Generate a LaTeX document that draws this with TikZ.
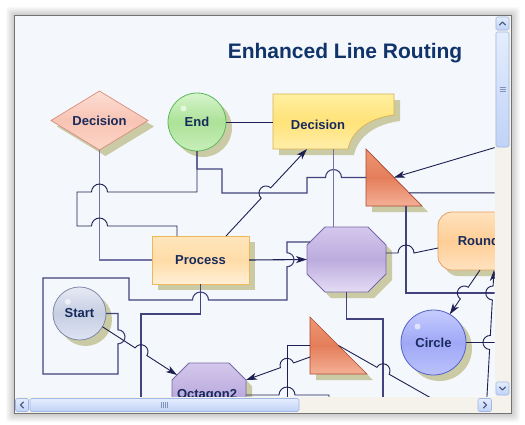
\documentclass[tikz,border=0pt]{standalone}
\usepackage{fontspec}
\setmainfont{Liberation Sans}
\usetikzlibrary{arrows.meta,shapes.geometric,shadows,calc}

\definecolor{colTitolo}{RGB}{16,52,106}
\definecolor{colTesto}{RGB}{24,42,92}
\definecolor{colSfondo}{RGB}{244,247,252}
\definecolor{colOmbra}{RGB}{198,198,156}
\definecolor{colScura}{RGB}{30,32,82}
\definecolor{colMedia}{RGB}{66,66,124}
\definecolor{colChiara}{RGB}{116,114,164}
\definecolor{colBarra}{RGB}{244,242,235}
\definecolor{colBordoP}{RGB}{160,184,230}
\definecolor{colP1}{RGB}{228,237,253}
\definecolor{colP2}{RGB}{192,210,246}
\definecolor{colFreccina}{RGB}{77,97,133}

\newcommand{\etichetta}{\bfseries\fontsize{13pt}{15pt}\selectfont}
\newcommand{\ottagonoPath}[2]{%
  ([xshift=#2]#1.north west) -- ([xshift=-#2]#1.north east) --
  ([yshift=-#2]#1.north east) -- ([yshift=#2]#1.south east) --
  ([xshift=-#2]#1.south east) -- ([xshift=#2]#1.south west) --
  ([yshift=#2]#1.south west) -- ([yshift=-#2]#1.north west) -- cycle}

\begin{document}
\begin{tikzpicture}[x=1pt,y=-1pt,
    every node/.style={font=\etichetta,text=colTesto},
    ombreggiata/.style={drop shadow={shadow xshift=6pt,shadow yshift=-6pt,fill=colOmbra,opacity=.9}},
    riquadro/.style={inner sep=0pt,outer sep=0pt},
    lscura/.style={draw=colScura,line width=.9pt},
    lmedia/.style={draw=colMedia,line width=1.1pt},
    lchiara/.style={draw=colChiara,line width=1.6pt},
    freccia/.style={-{Stealth[length=11pt,width=7pt,inset=3pt]}},
    pulsante/.style={draw=colBordoP,line width=.6pt,rounded corners=1.5pt,top color=colP1,bottom color=colP2},
    glifo/.style={draw=colFreccina,line width=1.2pt,line cap=round,line join=round}]
  \useasboundingbox (0,0) rectangle (525,424);
  \fill[white] (0,0) rectangle (525,424);
  \foreach \d in {1,...,8}
    \fill[black,opacity=.025,rounded corners=3pt] (14-\d,15-\d) rectangle (512+\d,414+\d);
  \fill[white] (14,15) rectangle (511,413);
  \fill[colSfondo] (15,16) rectangle (494.5,396.5);

  \begin{scope}
    \clip (15,16) rectangle (494.5,396.5);
    \node[font=\bfseries\fontsize{21pt}{24pt}\selectfont,text=colTitolo] (titolo) at (345,53) {Enhanced Line Routing};

    % forme
    \node[diamond,aspect=1.64,riquadro,minimum width=97pt,minimum height=59pt,
          draw={rgb,255:red,216;green,140;blue,124},line width=.7pt,
          top color={rgb,255:red,252;green,222;blue,212},bottom color={rgb,255:red,252;green,214;blue,200},
          middle color={rgb,255:red,248;green,196;blue,180},ombreggiata] (decisione1) at (99.5,120.5) {Decision};
    \node[circle,riquadro,minimum size=58pt,draw={rgb,255:red,92;green,186;blue,92},line width=.8pt,
          top color={rgb,255:red,214;green,244;blue,204},bottom color={rgb,255:red,200;green,238;blue,186},
          middle color={rgb,255:red,172;green,226;blue,152},ombreggiata] (fine) at (197,122) {};
    \node[riquadro,minimum width=121pt,minimum height=55pt] (decisione2) at (333.5,121.5) {};
    \path[draw={rgb,255:red,214;green,178;blue,80},line width=.7pt,
          top color={rgb,255:red,255;green,240;blue,160},bottom color={rgb,255:red,255;green,238;blue,170},
          middle color={rgb,255:red,255;green,226;blue,120},ombreggiata]
      (decisione2.north west) -- (decisione2.north east) -- ([yshift=-21pt]decisione2.north east)
      .. controls ([xshift=-24pt,yshift=31pt]decisione2.south east) and ([xshift=-42pt,yshift=19pt]decisione2.south east)
      .. ([xshift=-46pt]decisione2.south east) -- (decisione2.south west) -- cycle;
    \node[riquadro,minimum width=56pt,minimum height=57pt] (triangolo) at (394,177.5) {};
    \path[draw={rgb,255:red,170;green,72;blue,50},line width=.7pt,
          top color={rgb,255:red,238;green,150;blue,116},bottom color={rgb,255:red,244;green,176;blue,150},
          middle color={rgb,255:red,228;green,126;blue,90},ombreggiata]
      (triangolo.north west) -- (triangolo.south east) -- (triangolo.south west) -- cycle;
    \node[rectangle,riquadro,minimum width=97pt,minimum height=48pt,draw={rgb,255:red,240;green,182;blue,92},line width=.8pt,
          top color={rgb,255:red,255;green,230;blue,188},bottom color={rgb,255:red,255;green,240;blue,214},
          middle color={rgb,255:red,255;green,220;blue,168},ombreggiata] (processo) at (200.5,260) {};
    \node[riquadro,minimum width=79pt,minimum height=65pt] (ottagono) at (346.5,259.5) {};
    \path[draw={rgb,255:red,120;green,104;blue,168},line width=.8pt,
          top color={rgb,255:red,212;green,200;blue,236},bottom color={rgb,255:red,228;green,220;blue,244},
          middle color={rgb,255:red,188;green,172;blue,222},ombreggiata] \ottagonoPath{ottagono}{18pt};
    \node[rectangle,rounded corners=14pt,riquadro,minimum width=96pt,minimum height=58pt,
          draw={rgb,255:red,228;green,160;blue,96},line width=.8pt,
          top color={rgb,255:red,255;green,226;blue,190},bottom color={rgb,255:red,255;green,226;blue,192},
          middle color={rgb,255:red,255;green,206;blue,150},ombreggiata] (arrotondato) at (486,241) {};
    \node[circle,riquadro,minimum size=53pt,draw={rgb,255:red,128;green,138;blue,166},line width=.8pt,
          top color={rgb,255:red,230;green,234;blue,244},bottom color={rgb,255:red,222;green,228;blue,242},
          middle color={rgb,255:red,198;green,206;blue,226},ombreggiata] (inizio) at (79.5,313.5) {};
    \node[circle,riquadro,minimum size=65pt,draw={rgb,255:red,84;green,98;blue,200},line width=.8pt,
          top color={rgb,255:red,198;green,204;blue,255},bottom color={rgb,255:red,186;green,194;blue,252},
          middle color={rgb,255:red,160;green,168;blue,246},ombreggiata] (cerchio) at (433.5,342.5) {};
    \node[riquadro,minimum width=57pt,minimum height=57pt] (triangolo2) at (338.5,345.5) {};
    \path[draw={rgb,255:red,170;green,72;blue,50},line width=.7pt,
          top color={rgb,255:red,238;green,150;blue,116},bottom color={rgb,255:red,244;green,176;blue,150},
          middle color={rgb,255:red,228;green,126;blue,90},ombreggiata]
      (triangolo2.north west) -- (triangolo2.south east) -- (triangolo2.south west) -- cycle;
    \node[riquadro,minimum width=74pt,minimum height=64pt] (ottagono2) at (209,395) {};
    \path[draw={rgb,255:red,120;green,104;blue,168},line width=.8pt,
          top color={rgb,255:red,212;green,200;blue,236},bottom color={rgb,255:red,228;green,220;blue,244},
          middle color={rgb,255:red,188;green,172;blue,222},ombreggiata] \ottagonoPath{ottagono2}{17pt};

    \foreach \c in {fine,inizio,cerchio}
      \fill[white,opacity=.6] ([xshift=7pt,yshift=-7pt]\c.135) circle[radius=3pt];

    \node (fine_t) at (fine) {End};
    \node (decisione2_t) at (318,125) {Decision};
    \node (processo_t) at (processo) {Process};
    \node (arrotondato_t) at (arrotondato) {Rounded};
    \node (inizio_t) at (inizio) {Start};
    \node (cerchio_t) at (cerchio) {Circle};
    \node (ottagono2_t) at (207,395) {Octagon2};

    % collegamenti
    \coordinate (fuori1) at (500,146);
    \coordinate (fuori2) at (500,192.9);
    \coordinate (fuori3) at (500,293);
    \coordinate (fuori4) at (141,405);
    \coordinate (fuori5) at (383,405);
    \coordinate (fuori6) at (287,405);
    \coordinate (fuori7) at (329,405);
    \coordinate (fuori8) at (431,398);
    \coordinate (fuori9) at (486.5,405);
    \coordinate (fuori10) at (500,342.5);

    \draw[lchiara] (decisione1.south) |- (processo.west);
    \draw[lscura] (fine.south) -- (197,192) -- (107.5,192)
      arc[start angle=0,end angle=180,radius=8pt] -- (77,192) -- (77,226) -- (91.5,226)
      arc[start angle=180,end angle=0,radius=8pt] -- (177,226) -- ([xshift=-23.5pt]processo.north);
    \draw[lmedia] (fine.south) -- (197,169) -- (222,169) -- (222,193) -- (307,193) -- (307,177.5) -- (325.5,177.5)
      arc[start angle=180,end angle=0,radius=8pt] -- (triangolo.west);
    \draw[lscura,freccia] ([xshift=25.5pt]processo.north) -- (261.2,198.1)
      arc[start angle=227.1,delta angle=-180,radius=7pt] -- ([xshift=-26.5pt]decisione2.south);
    \draw[lchiara] (decisione2.south) -- (decisione2.south |- ottagono.north);
    \draw[lscura] (fine.east) -- (fine.east -| decisione2.west);
    \draw[lscura,freccia] (fuori1) -- (triangolo.center);
    \draw[lscura] ($(triangolo.north west)!.77!(triangolo.south east)$) -- (fuori2);
    \draw[lmedia] ([xshift=12pt]triangolo.south) |- (fuori3);
    \draw[lscura] ([yshift=6.5pt]ottagono.east) -- (398,253)
      arc[start angle=180,end angle=0,radius=8pt] -- (414,253) -- ([yshift=-7pt]arrotondato.west);
    \draw[lscura,line width=1.1pt,freccia] (processo.east) -- (ottagono.west);
    \draw[lmedia] (inizio.east) -- (118,313.5) -- (118,329.8)
      arc[start angle=90,end angle=-90,radius=7pt] -- (118,374) -- (43,374) -- (43,278) -- (129,278)
      -- (129,300) -- (192.5,300) arc[start angle=180,end angle=0,radius=8pt] -- (287,300) -- (287,266.75)
      arc[start angle=-90,end angle=90,radius=7pt] -- (287,242) -- ([xshift=3pt,yshift=17.5pt]ottagono.west);
    \draw[lmedia] (processo.south) -- (200.5,314) -| (fuori4);
    \draw[lscura,freccia] (inizio.-30) -- (135.12,347.9)
      arc[start angle=147.1,delta angle=-180,radius=7pt] -- ([xshift=5pt,yshift=20pt]ottagono2.west);
    \draw[lmedia] (ottagono.south) -- (346.5,319) -| (fuori5);
    \draw[lscura] (triangolo2.west) -| (fuori6);
    \draw[lscura] (ottagono2.east) -- (279,395) arc[start angle=180,end angle=0,radius=8pt] -- (329,395) -- (fuori7);
    \draw[lscura,freccia] ([yshift=-11.5pt]triangolo2.west) -- (293.59,362.93)
      arc[start angle=19.76,delta angle=180,radius=7pt] -- ([yshift=15pt]ottagono2.east);
    \draw[lscura] (triangolo2.center) -- (376.91,367.3)
      arc[start angle=150.42,delta angle=-180,radius=7pt] -- (fuori8);
    \draw[lscura,freccia] ([xshift=-6pt]arrotondato.south) -- (468.25,287.22)
      arc[start angle=55.7,delta angle=180,radius=7pt] -- (cerchio.60);
    \draw[lscura,freccia] (fuori9) -- (489.58,349.49)
      arc[start angle=266.82,delta angle=-180,radius=7pt] -- (492.34,299.99)
      arc[start angle=266.82,delta angle=-180,radius=7pt] -- ([xshift=8pt]arrotondato.south);
    \draw[lscura] (cerchio.east) -- (fuori10);
  \end{scope}

  % barre di scorrimento
  \fill[colBarra] (494.5,16) rectangle (510.5,412.5);
  \fill[colBarra] (15,396.5) rectangle (510.5,412.5);
  \path[pulsante] (496,17) rectangle (509,30);
  \path[pulsante] (496,32) rectangle (509,147);
  \path[pulsante] (496,382) rectangle (509,395);
  \path[pulsante] (15.5,398.5) rectangle (28.5,411.5);
  \path[pulsante] (30,398.5) rectangle (299,411.5);
  \path[pulsante] (478,398.5) rectangle (491.5,411.5);
  \draw[glifo] (499.5,25) -- (502.5,22) -- (505.5,25);
  \draw[glifo] (499.5,387) -- (502.5,390) -- (505.5,387);
  \draw[glifo] (23.5,402) -- (20.5,405) -- (23.5,408);
  \draw[glifo] (483.5,402) -- (486.5,405) -- (483.5,408);
  \foreach \g in {-2,0,2}
    \draw[colBordoP!80!black,line width=.5pt] (499.5,89.5+\g) -- (505.5,89.5+\g);
  \foreach \g in {-3,-1,1,3}
    \draw[colBordoP!80!black,line width=.5pt] (164.5+\g,402) -- (164.5+\g,408);
  \draw[black!55,line width=.8pt] (14,15) rectangle (511,413);
\end{tikzpicture}
\end{document}
